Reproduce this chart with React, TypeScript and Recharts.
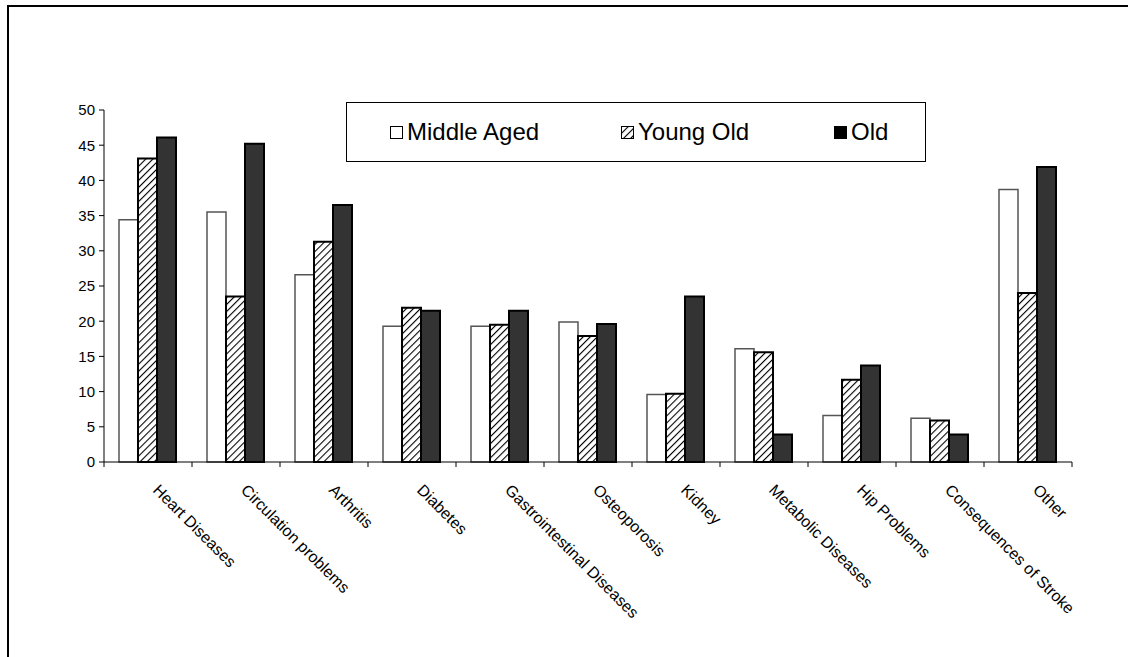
import React from "react";
import { BarChart, Bar, XAxis, YAxis } from "recharts";

const categories = [
  "Heart Diseases",
  "Circulation problems",
  "Arthritis",
  "Diabetes",
  "Gastrointestinal Diseases",
  "Osteoporosis",
  "Kidney",
  "Metabolic Diseases",
  "Hip Problems",
  "Consequences of Stroke",
  "Other",
];

const seriesNames = ["Middle Aged", "Young Old", "Old"];

const middleAged = [34.4, 35.5, 26.6, 19.3, 19.3, 19.9, 9.6, 16.1, 6.6, 6.2, 38.7];
const youngOld = [43.1, 23.5, 31.3, 21.9, 19.5, 17.9, 9.7, 15.6, 11.7, 5.9, 24.0];
const old = [46.1, 45.2, 36.5, 21.5, 21.5, 19.6, 23.5, 3.9, 13.7, 3.9, 41.9];

const yTicks = [0, 5, 10, 15, 20, 25, 30, 35, 40, 45, 50];

const data = categories.map((name, i) => ({
  name,
  middleAged: middleAged[i],
  youngOld: youngOld[i],
  old: old[i],
}));

const WIDTH = 1128;
const HEIGHT = 657;
const MARGIN = { top: 110, right: 56, bottom: 45, left: 44 };
const Y_AXIS_W = 60;
const PLOT_W = WIDTH - MARGIN.left - MARGIN.right - Y_AXIS_W;
const BAND = PLOT_W / categories.length;

const FONT = "'Liberation Sans', Arial, sans-serif";

// Excel style: tick marks sit on the category boundaries, labels slant at 45deg
function CategoryTick(props: any) {
  const { x, y, payload, index } = props;
  const left = x - BAND / 2;
  const right = x + BAND / 2;
  const tx = x + 4;
  const ty = y + 21;
  return (
    <g>
      <line x1={left} y1={y - 8} x2={left} y2={y - 3} stroke="#000" strokeWidth={1} />
      {index === categories.length - 1 && (
        <line x1={right} y1={y - 8} x2={right} y2={y - 3} stroke="#000" strokeWidth={1} />
      )}
      <text
        x={tx}
        y={ty}
        transform={`rotate(45, ${tx}, ${ty})`}
        textAnchor="start"
        fontSize={16}
        fontFamily={FONT}
        fill="#000"
      >
        {payload.value}
      </text>
    </g>
  );
}

const legendItems = [
  { label: seriesNames[0], fill: "#fff", x: 43 },
  { label: seriesNames[1], fill: "url(#hatch)", x: 274 },
  { label: seriesNames[2], fill: "#000", x: 487 },
];

function LegendBox() {
  return (
    <div
      style={{
        position: "absolute",
        left: 346,
        top: 102,
        width: 578,
        height: 58,
        border: "1.5px solid #000",
        background: "#fff",
        fontFamily: FONT,
        fontSize: 24,
      }}
    >
      {legendItems.map((it) => (
        <div
          key={it.label}
          style={{ position: "absolute", left: it.x, top: 16, display: "flex", alignItems: "center", lineHeight: "26px" }}
        >
          <svg width={13} height={13} style={{ marginRight: 4 }}>
            <rect x={0.5} y={0.5} width={12} height={12} fill={it.fill} stroke="#000" strokeWidth={1} />
          </svg>
          <span>{it.label}</span>
        </div>
      ))}
    </div>
  );
}

export default function App() {
  return (
    <div style={{ position: "absolute", left: 0, top: 0, width: WIDTH, height: HEIGHT, background: "#fff", overflow: "hidden" }}>
      <div
        style={{
          position: "absolute",
          left: 7,
          top: 5,
          width: WIDTH,
          height: HEIGHT,
          borderLeft: "2px solid #000",
          borderTop: "2px solid #000",
        }}
      />
      <div style={{ position: "absolute", left: 0, top: 0 }}>
        <BarChart
          width={WIDTH}
          height={HEIGHT}
          data={data}
          margin={MARGIN}
          barCategoryGap={15}
          barGap={0}
        >
          <defs>
            <pattern id="hatch" width="5" height="5" patternUnits="userSpaceOnUse" patternTransform="rotate(45)">
              <rect width="5" height="5" fill="#fff" />
              <line x1="0" y1="0" x2="0" y2="5" stroke="#000" strokeWidth="2.2" />
            </pattern>
          </defs>
          <XAxis
            dataKey="name"
            interval={0}
            height={150}
            tickLine={false}
            axisLine={{ stroke: "#000", strokeWidth: 1 }}
            tick={<CategoryTick />}
          />
          <YAxis
            width={Y_AXIS_W}
            domain={[0, 50]}
            ticks={yTicks}
            interval={0}
            tickSize={5}
            tickMargin={4}
            tickLine={{ stroke: "#000" }}
            axisLine={{ stroke: "#000", strokeWidth: 1 }}
            tick={{ fontSize: 15, fill: "#000", fontFamily: FONT }}
          />
          <Bar dataKey="middleAged" name={seriesNames[0]} fill="#fff" stroke="#555" strokeWidth={1.5} isAnimationActive={false} />
          <Bar dataKey="youngOld" name={seriesNames[1]} fill="url(#hatch)" stroke="#000" strokeWidth={2} isAnimationActive={false} />
          <Bar dataKey="old" name={seriesNames[2]} fill="#333" stroke="#000" strokeWidth={2} isAnimationActive={false} />
        </BarChart>
      </div>
      <LegendBox />
    </div>
  );
}
